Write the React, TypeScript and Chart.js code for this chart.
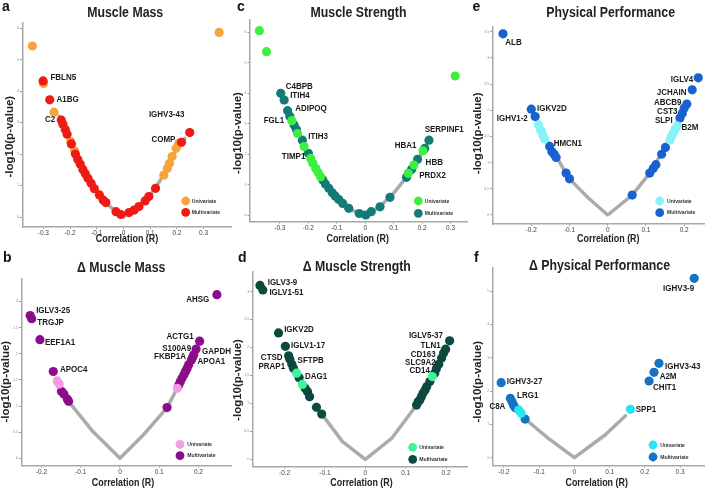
import React, { useEffect, useRef } from "react";
import { Chart, registerables } from "chart.js";
Chart.register(...registerables);

const FONT = '"Liberation Sans", Arial, Helvetica, sans-serif';

// ---------- a: Muscle Mass ----------
const A_X_TICKS = [-0.3, -0.2, -0.1, 0, 0.1, 0.2, 0.3];
const A_Y_TICKS = [0, 1, 2, 3, 4, 5, 6];
const A_UNI_R = [-0.341, 0.358, -0.299, -0.26, -0.198, -0.183, 0.151, 0.164, 0.172, 0.182, 0.197, 0.207];
const A_UNI_P = [5.43, 5.86, 4.24, 3.33, 2.4, 2.1, 1.33, 1.54, 1.7, 1.92, 2.18, 2.34];
const A_UNI_NAME = ["", "", "", "", "", "", "", "", "", "", "", ""];
const A_MULTI_R = [-0.301, -0.276, -0.233, -0.227, -0.218, -0.211, -0.195, -0.18, -0.171, -0.162, -0.152, -0.143, -0.133, -0.121, -0.109, -0.09, -0.076, -0.066, -0.028, -0.01, 0.021, 0.04, 0.058, 0.081, 0.095, 0.12, 0.217, 0.248];
const A_MULTI_P = [4.32, 3.72, 3.08, 2.95, 2.78, 2.63, 2.32, 2.0, 1.83, 1.68, 1.51, 1.37, 1.23, 1.07, 0.9, 0.7, 0.54, 0.46, 0.17, 0.08, 0.14, 0.22, 0.33, 0.51, 0.65, 0.91, 2.37, 2.68];
const A_MULTI_NAME = ["FBLN5", "A1BG", "C2", "", "", "", "", "", "", "", "", "", "", "", "", "", "", "", "", "", "", "", "", "", "", "", "COMP", "IGHV3-43"];
const A_LINE_R = [-0.24, -0.2, -0.15, -0.1, -0.05, 0, 0.05, 0.1, 0.133, 0.16, 0.2, 0.23];
const A_LINE_P = [3.2, 2.42, 1.5, 0.8, 0.33, 0, 0.28, 0.7, 1.1, 1.5, 2.2, 2.5];

// ---------- c: Muscle Strength ----------
const C_X_TICKS = [-0.3, -0.2, -0.1, 0, 0.1, 0.2, 0.3];
const C_Y_TICKS = [0, 1, 2, 3, 4, 5, 6];
const C_UNI_R = [-0.372, -0.347, 0.316, -0.258, -0.238, -0.215, -0.192, -0.184, -0.174, -0.165, -0.157, 0.151, 0.171, 0.203];
const C_UNI_P = [6.06, 5.37, 4.57, 3.1, 2.68, 2.25, 1.86, 1.7, 1.53, 1.39, 1.26, 1.37, 1.64, 2.11];
const C_UNI_NAME = ["", "", "", "FGL1", "", "", "", "", "", "", "", "", "", "HBA1"];
const C_MULTI_R = [-0.297, -0.285, -0.273, -0.265, -0.25, -0.242, -0.221, -0.2, -0.149, -0.14, -0.128, -0.116, -0.105, -0.093, -0.079, -0.058, -0.021, 0.002, 0.021, 0.052, 0.087, 0.145, 0.163, 0.184, 0.209, 0.224];
const C_MULTI_P = [4.0, 3.78, 3.43, 3.25, 2.96, 2.81, 2.46, 2.03, 1.15, 1.02, 0.88, 0.73, 0.62, 0.51, 0.38, 0.22, 0.05, 0.0, 0.11, 0.27, 0.58, 1.24, 1.5, 1.83, 2.19, 2.46];
const C_MULTI_NAME = ["C4BPB", "ITIH4", "ADIPOQ", "", "", "", "ITIH3", "TIMP1", "", "", "", "", "", "", "", "", "", "", "", "", "", "", "PRDX2", "HBB", "", "SERPINF1"];
const C_LINE_R = [-0.25, -0.2, -0.15, -0.1, -0.05, 0, 0.05, 0.1, 0.15, 0.2, 0.224];
const C_LINE_P = [2.96, 2.03, 1.17, 0.58, 0.17, 0, 0.26, 0.72, 1.3, 2.05, 2.46];

// ---------- e: Physical Performance ----------
const E_X_TICKS = [-0.2, -0.1, 0, 0.1, 0.2];
const E_Y_TICKS = [0, 0.5, 1, 1.5, 2, 2.5, 3, 3.5];
const E_UNI_R = [-0.181, -0.175, -0.17, -0.165, 0.163, 0.167, 0.171, 0.177, 0.182];
const E_UNI_P = [1.72, 1.62, 1.53, 1.45, 1.43, 1.5, 1.56, 1.64, 1.7];
const E_UNI_NAME = ["", "", "", "", "", "", "", "", "B2M"];
const E_MULTI_R = [-0.274, -0.2, -0.19, -0.152, -0.146, -0.14, -0.135, -0.109, -0.1, 0.064, 0.11, 0.119, 0.126, 0.141, 0.151, 0.189, 0.195, 0.2, 0.207, 0.221, 0.237];
const E_MULTI_P = [3.46, 2.02, 1.88, 1.31, 1.21, 1.16, 1.1, 0.8, 0.69, 0.38, 0.8, 0.89, 0.96, 1.16, 1.29, 1.85, 1.94, 2.04, 2.12, 2.39, 2.62];
const E_MULTI_NAME = ["ALB", "IGKV2D", "IGHV1-2", "HMCN1", "", "", "", "", "", "", "", "", "", "", "", "SLPI", "CST3", "", "ABCB9", "JCHAIN", "IGLV4"];
const E_LINE_R = [-0.2, -0.15, -0.1, -0.05, 0, 0.064, 0.11, 0.15, 0.2];
const E_LINE_P = [2.02, 1.3, 0.69, 0.32, 0, 0.38, 0.8, 1.29, 2.04];

// ---------- b: Δ Muscle Mass ----------
const B_X_TICKS = [-0.2, -0.1, 0, 0.1, 0.2];
const B_Y_TICKS = [0, 0.5, 1, 1.5, 2, 2.5, 3];
const B_UNI_R = [-0.16, -0.155, 0.146];
const B_UNI_P = [1.48, 1.42, 1.34];
const B_UNI_NAME = ["", "", ""];
const B_MULTI_R = [-0.229, -0.225, -0.204, -0.17, -0.149, -0.143, -0.134, -0.131, 0.12, 0.15, 0.154, 0.158, 0.163, 0.167, 0.171, 0.175, 0.182, 0.185, 0.188, 0.194, 0.203, 0.247];
const B_MULTI_P = [2.73, 2.67, 2.27, 1.66, 1.28, 1.23, 1.13, 1.09, 0.97, 1.4, 1.47, 1.53, 1.6, 1.66, 1.72, 1.79, 1.88, 1.93, 1.98, 2.09, 2.24, 3.13];
const B_MULTI_NAME = ["IGLV3-25", "TRGJP", "EEF1A1", "APOC4", "", "", "", "", "", "", "", "", "", "", "", "", "FKBP1A", "APOA1", "", "S100A9,GAPDH", "ACTG1", "AHSG"];
const B_LINE_R = [-0.131, -0.069, 0, 0.06, 0.12, 0.146];
const B_LINE_P = [1.09, 0.51, 0, 0.45, 0.97, 1.34];

// ---------- d: Δ Muscle Strength ----------
const D_X_TICKS = [-0.2, -0.1, 0, 0.1, 0.2];
const D_Y_TICKS = [0, 0.5, 1, 1.5, 2, 2.5, 3];
const D_UNI_R = [-0.17, -0.156, 0.166];
const D_UNI_P = [1.54, 1.34, 1.48];
const D_UNI_NAME = ["DAG1", "", "CD14"];
const D_MULTI_R = [-0.261, -0.254, -0.215, -0.198, -0.19, -0.187, -0.182, -0.178, -0.164, -0.149, -0.143, -0.138, -0.121, -0.108, 0.127, 0.131, 0.135, 0.139, 0.143, 0.148, 0.152, 0.16, 0.172, 0.176, 0.182, 0.189, 0.194, 0.199, 0.209];
const D_MULTI_P = [3.11, 3.03, 2.26, 2.02, 1.85, 1.79, 1.7, 1.63, 1.46, 1.27, 1.21, 1.12, 0.93, 0.81, 0.97, 1.03, 1.06, 1.12, 1.18, 1.24, 1.3, 1.39, 1.54, 1.62, 1.7, 1.81, 1.9, 1.97, 2.12];
const D_MULTI_NAME = ["IGLV3-9", "IGLV1-51", "IGKV2D", "IGLV1-17", "CTSD", "PRAP1", "SFTPB", "", "", "", "", "", "", "", "", "", "", "", "", "", "", "", "", "", "SLC9A2", "", "CD163", "TLN1", "IGLV5-37"];
const D_LINE_R = [-0.108, -0.057, 0, 0.066, 0.127];
const D_LINE_P = [0.81, 0.32, 0, 0.38, 0.97];

// ---------- f: Δ Physical Performance ----------
const F_X_TICKS = [-0.2, -0.1, 0, 0.1, 0.2, 0.3];
const F_Y_TICKS = [0, 1, 2, 3, 4, 5];
const F_UNI_R = [-0.158, -0.151, 0.159];
const F_UNI_P = [1.43, 1.33, 1.45];
const F_UNI_NAME = ["", "", "SPP1"];
const F_MULTI_R = [0.34, 0.24, 0.226, 0.212, -0.208, -0.182, -0.177, -0.173, -0.168, -0.14];
const F_MULTI_P = [5.38, 2.83, 2.56, 2.3, 2.25, 1.78, 1.68, 1.58, 1.5, 1.16];
const F_MULTI_NAME = ["IGHV3-9", "IGHV3-43", "A2M", "CHIT1", "IGHV3-27", "LRG1", "C8A", "", "", ""];
const F_LINE_R = [-0.14, -0.074, 0, 0.087, 0.145];
const F_LINE_P = [1.16, 0.58, 0, 0.68, 1.26];

// ---------- label placement (pixel offsets from the point, alignment) ----------
type LP = Record<string, [number, number, "l" | "r"]>;
const A_LABEL_POS: LP = { FBLN5: [7.4, -3.7, "l"], A1BG: [6.7, -0.7, "l"], C2: [-6, -1, "r"], COMP: [-6, -3, "r"], "IGHV3-43": [-5.3, -17.7, "r"] };
const C_LABEL_POS: LP = { C4BPB: [5, -7.3, "l"], ITIH4: [6, -5, "l"], ADIPOQ: [7.6, -2.4, "l"], FGL1: [-7.7, -0.7, "r"], ITIH3: [6, -3.3, "l"], TIMP1: [-3, 3.4, "r"], SERPINF1: [-4.3, -10.7, "l"], HBA1: [-6.6, -5.7, "r"], HBB: [8, 3.4, "l"], PRDX2: [7.6, 6.4, "l"] };
const E_LABEL_POS: LP = { ALB: [2.3, 8.3, "l"], IGKV2D: [5.7, -0.3, "l"], "IGHV1-2": [-7.3, 2.3, "r"], HMCN1: [4, -3.4, "l"], IGLV4: [-5, 1.3, "r"], JCHAIN: [-5.7, 2.7, "r"], ABCB9: [-5.3, -1.3, "r"], CST3: [-4.7, -2.3, "r"], SLPI: [-7.3, 2.4, "r"], B2M: [4.3, 1.7, "l"] };
const B_LABEL_POS: LP = { "IGLV3-25": [6, -5, "l"], TRGJP: [5.6, 3.3, "l"], EEF1A1: [5, 3.3, "l"], APOC4: [6.7, -1.7, "l"], AHSG: [-7.6, 4.3, "r"], ACTG1: [-6, -5, "r"], S100A9: [-5, -0.7, "r"], GAPDH: [6, 2.7, "l"], FKBP1A: [-5.4, -4, "r"], APOA1: [5, 4, "l"] };
const D_LABEL_POS: LP = { "IGLV3-9": [7.7, -3, "l"], "IGLV1-51": [6.6, 2.3, "l"], IGKV2D: [5.6, -3.3, "l"], "IGLV1-17": [5.7, -0.7, "l"], CTSD: [-6, 1.7, "r"], PRAP1: [-4.7, 7.4, "r"], SFTPB: [5.7, -4.3, "l"], DAG1: [8.3, 3.4, "l"], "IGLV5-37": [-6.7, -5.7, "r"], TLN1: [-5, -4, "r"], CD163: [-8, 1, "r"], SLC9A2: [-3, -2, "r"], CD14: [-2.4, -5.7, "r"] };
const F_LABEL_POS: LP = { "IGHV3-9": [0, 10, "r"], "IGHV3-43": [6, 3.4, "l"], A2M: [5.6, 3.7, "l"], CHIT1: [4, 6.3, "l"], "IGHV3-27": [5.7, -1, "l"], LRG1: [6.7, -3.3, "l"], C8A: [-6.7, 5, "r"], SPP1: [5.3, 0, "l"] };

interface PanelCfg {
  letter: string; title: string;
  box: number[]; area: number[]; xr: number[]; yr: number[];
  xTicks: number[]; yTicks: number[];
  uni: [number[], number[], string[]]; multi: [number[], number[], string[]]; line: [number[], number[]];
  uniColor: string; multiColor: string; uniOnTop: boolean;
  letterAt: number[]; titleAt: number[]; yTitleAt: number[]; xTitleAt: number[]; legendAt: number[];
  labelPos: LP;
}

const PANELS: PanelCfg[] = [
  { letter: "a", title: "Muscle Mass", box: [0, 0, 236, 245], area: [22.5, 23, 233, 227], xr: [-0.378, 0.404], yr: [-0.317, 6.16],
    xTicks: A_X_TICKS, yTicks: A_Y_TICKS, uni: [A_UNI_R, A_UNI_P, A_UNI_NAME], multi: [A_MULTI_R, A_MULTI_P, A_MULTI_NAME], line: [A_LINE_R, A_LINE_P],
    uniColor: "#F6A43C", multiColor: "#EE1A14", uniOnTop: false,
    letterAt: [2, 10.5], titleAt: [125.2, 12.7], yTitleAt: [10, 136.7], xTitleAt: [127, 239.3], legendAt: [185.7, 201, 212.3, 191.7], labelPos: A_LABEL_POS },
  { letter: "c", title: "Muscle Strength", box: [226, 0, 246, 245], area: [250, 20, 469, 221.7], xr: [-0.405, 0.359], yr: [-0.22, 6.41],
    xTicks: C_X_TICKS, yTicks: C_Y_TICKS, uni: [C_UNI_R, C_UNI_P, C_UNI_NAME], multi: [C_MULTI_R, C_MULTI_P, C_MULTI_NAME], line: [C_LINE_R, C_LINE_P],
    uniColor: "#3EF03E", multiColor: "#127B78", uniOnTop: true,
    letterAt: [237, 10.5], titleAt: [358.5, 12.7], yTitleAt: [238.5, 133], xTitleAt: [357.7, 239.3], legendAt: [418.3, 201, 213.3, 424.7], labelPos: C_LABEL_POS },
  { letter: "e", title: "Physical Performance", box: [462, 0, 247, 245], area: [492.7, 27, 705, 224], xr: [-0.301, 0.253], yr: [-0.172, 3.59],
    xTicks: E_X_TICKS, yTicks: E_Y_TICKS, uni: [E_UNI_R, E_UNI_P, E_UNI_NAME], multi: [E_MULTI_R, E_MULTI_P, E_MULTI_NAME], line: [E_LINE_R, E_LINE_P],
    uniColor: "#86F3F5", multiColor: "#1762CE", uniOnTop: true,
    letterAt: [472.5, 10.5], titleAt: [610.7, 12.7], yTitleAt: [478, 133.3], xTitleAt: [608.3, 239.3], legendAt: [659.7, 201, 212.7, 667], labelPos: E_LABEL_POS },
  { letter: "b", title: "Δ Muscle Mass", box: [0, 245, 236, 245], area: [21.5, 279, 233, 465.7], xr: [-0.251, 0.284], yr: [-0.142, 3.43],
    xTicks: B_X_TICKS, yTicks: B_Y_TICKS, uni: [B_UNI_R, B_UNI_P, B_UNI_NAME], multi: [B_MULTI_R, B_MULTI_P, B_MULTI_NAME], line: [B_LINE_R, B_LINE_P],
    uniColor: "#F69BE3", multiColor: "#8C0D8C", uniOnTop: true,
    letterAt: [3, 261.7], titleAt: [121.2, 267.7], yTitleAt: [6.5, 381.7], xTitleAt: [123, 483.3], legendAt: [180, 444.3, 455.7, 187.3], labelPos: B_LABEL_POS },
  { letter: "d", title: "Δ Muscle Strength", box: [226, 245, 246, 245], area: [252.7, 272, 469, 466.7], xr: [-0.279, 0.253], yr: [-0.132, 3.35],
    xTicks: D_X_TICKS, yTicks: D_Y_TICKS, uni: [D_UNI_R, D_UNI_P, D_UNI_NAME], multi: [D_MULTI_R, D_MULTI_P, D_MULTI_NAME], line: [D_LINE_R, D_LINE_P],
    uniColor: "#3EF59A", multiColor: "#0C4A40", uniOnTop: true,
    letterAt: [238, 261.7], titleAt: [356.8, 266.7], yTitleAt: [238.5, 380], xTitleAt: [361.5, 483], legendAt: [412.7, 447.3, 459.3, 419.3], labelPos: D_LABEL_POS },
  { letter: "f", title: "Δ Physical Performance", box: [462, 245, 247, 245], area: [492.7, 268, 705, 465.7], xr: [-0.232, 0.369], yr: [-0.24, 5.69],
    xTicks: F_X_TICKS, yTicks: F_Y_TICKS, uni: [F_UNI_R, F_UNI_P, F_UNI_NAME], multi: [F_MULTI_R, F_MULTI_P, F_MULTI_NAME], line: [F_LINE_R, F_LINE_P],
    uniColor: "#25E6F3", multiColor: "#1672C2", uniOnTop: true,
    letterAt: [474, 261.7], titleAt: [599.5, 265.7], yTitleAt: [478.5, 381.7], xTitleAt: [596.7, 483], legendAt: [653, 445, 457, 660.3], labelPos: F_LABEL_POS },
];

const fmt = (v: number) => {
  const r = Math.round(v * 10) / 10;
  return r === 0 ? "0" : String(r);
};

function drawText(ctx: CanvasRenderingContext2D, text: string, x: number, y: number, size: number, align: string, sx: number, color = "#1a1a1a") {
  ctx.save();
  ctx.font = `bold ${size}px ${FONT}`;
  ctx.fillStyle = color;
  ctx.textBaseline = "middle";
  ctx.textAlign = "left";
  const w = ctx.measureText(text).width * sx;
  const x0 = align === "center" ? x - w / 2 : align === "r" ? x - w : x;
  ctx.translate(x0, y);
  ctx.scale(sx, 1);
  ctx.fillText(text, 0, 0);
  ctx.restore();
}

const POINT_R = 4.6;

function Panel({ cfg }: { cfg: PanelCfg }) {
  const ref = useRef<HTMLCanvasElement>(null);
  useEffect(() => {
    const [cx, cy, cw, ch] = cfg.box;
    const [L, T, R, B] = cfg.area;
    const pts = (xs: number[], ys: number[]) => xs.map((x, i) => ({ x, y: ys[i] }));
    const overlay = {
      id: "overlay",
      afterDatasetsDraw(chart: any) {
        const ctx: CanvasRenderingContext2D = chart.ctx;
        const xs = chart.scales.x, ys = chart.scales.y;
        const groups = [cfg.multi, cfg.uni];
        for (const g of groups) {
          const [rr, pp, nn] = g;
          nn.forEach((nm, i) => {
            if (!nm) return;
            const px = xs.getPixelForValue(rr[i]);
            const py = ys.getPixelForValue(pp[i]);
            nm.split(",").forEach((name) => {
              const pos = cfg.labelPos[name];
              if (!pos) return;
              drawText(ctx, name, px + pos[0], py + pos[1], 9.2, pos[2], 0.87);
            });
          });
        }
        ctx.save();
        ctx.font = `bold 14px ${FONT}`;
        ctx.fillStyle = "#111";
        ctx.textBaseline = "alphabetic";
        ctx.textAlign = "left";
        ctx.fillText(cfg.letter, cfg.letterAt[0] - cx, cfg.letterAt[1] - cy);
        ctx.restore();
        drawText(ctx, cfg.title, cfg.titleAt[0] - cx, cfg.titleAt[1] - cy, 14, "center", 0.88, "#222");
        drawText(ctx, "Correlation (R)", cfg.xTitleAt[0] - cx, cfg.xTitleAt[1] - cy, 10.5, "center", 0.85, "#222");
        ctx.save();
        ctx.translate(cfg.yTitleAt[0] - cx, cfg.yTitleAt[1] - cy);
        ctx.rotate(-Math.PI / 2);
        ctx.scale(1, 0.9);
        ctx.font = `bold 11.5px ${FONT}`;
        ctx.fillStyle = "#222";
        ctx.textAlign = "center";
        ctx.textBaseline = "middle";
        ctx.fillText("-log10(p-value)", 0, 0);
        ctx.restore();
        const [lx, ly1, ly2, tx] = cfg.legendAt;
        const items: [number, string, string][] = [[ly1, cfg.uniColor, "Univariate"], [ly2, cfg.multiColor, "Multivariate"]];
        for (const [yy, col, txt] of items) {
          ctx.beginPath();
          ctx.fillStyle = col;
          ctx.arc(lx - cx, yy - cy, 4.4, 0, Math.PI * 2);
          ctx.fill();
          drawText(ctx, txt, tx - cx, yy - cy, 6, "l", 0.85, "#333");
        }
      },
    };
    const uniDs = {
      label: "Univariate", data: pts(cfg.uni[0], cfg.uni[1]), backgroundColor: cfg.uniColor,
      pointRadius: POINT_R, pointBorderWidth: 0, borderWidth: 0, clip: false, order: cfg.uniOnTop ? 1 : 2,
    };
    const multiDs = {
      label: "Multivariate", data: pts(cfg.multi[0], cfg.multi[1]), backgroundColor: cfg.multiColor,
      pointRadius: POINT_R, pointBorderWidth: 0, borderWidth: 0, clip: false, order: cfg.uniOnTop ? 2 : 1,
    };
    const lineDs = {
      label: "all", data: pts(cfg.line[0], cfg.line[1]), showLine: true, borderColor: "#ABABAB",
      borderWidth: 3.5, pointRadius: 0, tension: 0, fill: false, clip: false, order: 3,
      borderCapStyle: "round", borderJoinStyle: "round",
    };
    const axisCommon = {
      type: "linear",
      border: { display: true, color: "#A8A8A8", width: 1.5 },
    };
    const chart = new Chart(ref.current as HTMLCanvasElement, {
      type: "scatter",
      data: { datasets: [lineDs, uniDs, multiDs] as any },
      options: {
        responsive: false,
        animation: false,
        devicePixelRatio: 1,
        events: [],
        layout: { padding: { left: 0, right: cw - (R - cx), top: T - cy, bottom: 0 } },
        plugins: { legend: { display: false }, tooltip: { enabled: false }, title: { display: false } },
        scales: {
          x: {
            ...axisCommon,
            min: cfg.xr[0], max: cfg.xr[1],
            afterBuildTicks: (ax: any) => { ax.ticks = cfg.xTicks.map((v) => ({ value: v })); },
            afterFit: (s: any) => { s.height = ch - (B - cy); },
            grid: { display: true, drawOnChartArea: false, drawTicks: true, tickLength: 2, color: "#999" },
            ticks: { font: { size: 6.5, family: FONT }, color: "#444", padding: 0.5, maxRotation: 0, minRotation: 0, autoSkip: false, callback: (v: any) => fmt(Number(v)) },
          },
          y: {
            ...axisCommon,
            min: cfg.yr[0], max: cfg.yr[1],
            afterBuildTicks: (ax: any) => { ax.ticks = cfg.yTicks.map((v) => ({ value: v })); },
            afterFit: (s: any) => { s.width = L - cx; },
            grid: { display: true, drawOnChartArea: false, drawTicks: true, tickLength: 2.5, color: "#999" },
            ticks: { font: { size: 3.5, family: FONT }, color: "#888", padding: 1, autoSkip: false, callback: (v: any) => String(Number(v)) },
          },
        },
      } as any,
      plugins: [overlay],
    });
    return () => chart.destroy();
  }, [cfg]);
  const [cx, cy, cw, ch] = cfg.box;
  return (
    <canvas
      ref={ref}
      width={cw}
      height={ch}
      style={{ position: "absolute", left: cx, top: cy, width: cw, height: ch }}
    />
  );
}

export default function App() {
  return (
    <div style={{ position: "fixed", left: 0, top: 0, width: 709, height: 490, background: "#fff", overflow: "hidden" }}>
      {PANELS.map((p) => (
        <Panel key={p.letter} cfg={p} />
      ))}
    </div>
  );
}
